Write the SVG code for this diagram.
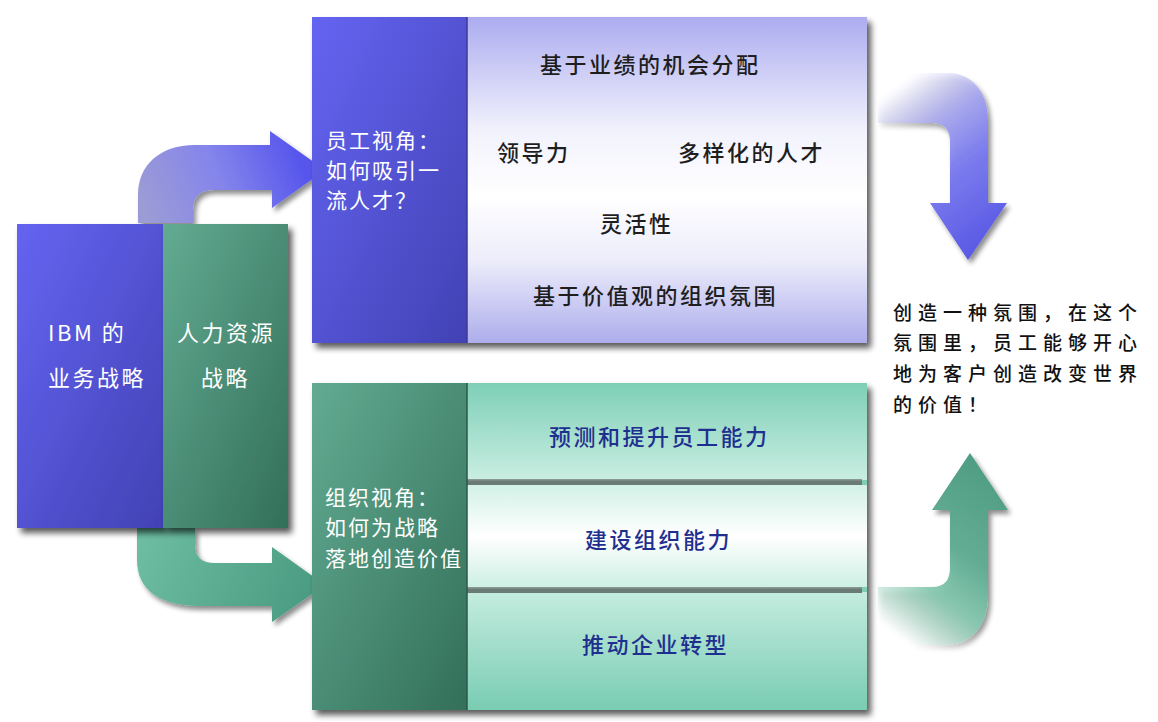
<svg xmlns="http://www.w3.org/2000/svg" width="1158" height="722" viewBox="0 0 1158 722">
<defs>
<style>
.cjk{font-family:"Noto Sans CJK SC","Liberation Sans",sans-serif;}
.w{fill:#ffffff;font-size:21px;letter-spacing:2px;}
.wl{fill:#ffffff;font-size:22px;letter-spacing:2.5px;}
.dk{fill:#1e1e1e;font-size:22px;letter-spacing:2.5px;font-weight:500;}
.bl{fill:#1f2f8f;font-size:22px;letter-spacing:2.5px;font-weight:500;}
.rt{fill:#111111;font-size:19px;letter-spacing:6px;font-weight:500;}
</style>
<filter id="sh" x="-10%" y="-10%" width="125%" height="125%">
<feGaussianBlur in="SourceAlpha" stdDeviation="3"/>
<feOffset dx="4" dy="5" result="b"/>
<feComponentTransfer><feFuncA type="linear" slope="0.65"/></feComponentTransfer>
<feMerge><feMergeNode/><feMergeNode in="SourceGraphic"/></feMerge>
</filter>
<filter id="ash" x="-20%" y="-20%" width="150%" height="150%">
<feGaussianBlur in="SourceAlpha" stdDeviation="2.5"/>
<feOffset dx="3" dy="4" result="b"/>
<feComponentTransfer><feFuncA type="linear" slope="0.45"/></feComponentTransfer>
<feMerge><feMergeNode/><feMergeNode in="SourceGraphic"/></feMerge>
</filter>
<linearGradient id="gBlue" x1="0" y1="0" x2="1" y2="1">
<stop offset="0" stop-color="#6464f2"/><stop offset="1" stop-color="#4242b4"/>
</linearGradient>
<linearGradient id="gGreen" x1="0" y1="0" x2="1" y2="1">
<stop offset="0" stop-color="#62ab92"/><stop offset="1" stop-color="#336f59"/>
</linearGradient>
<linearGradient id="gLav" x1="0" y1="0" x2="0" y2="1">
<stop offset="0" stop-color="#acacf0"/><stop offset="0.35" stop-color="#f2f2fd"/><stop offset="0.55" stop-color="#ffffff"/><stop offset="0.75" stop-color="#ececfb"/><stop offset="1" stop-color="#adadec"/>
</linearGradient>
<linearGradient id="gB1" x1="0" y1="0" x2="0" y2="1">
<stop offset="0" stop-color="#7ecfb6"/><stop offset="1" stop-color="#c9eee2"/>
</linearGradient>
<linearGradient id="gB2" x1="0" y1="0" x2="0" y2="1">
<stop offset="0" stop-color="#d2f1e7"/><stop offset="0.5" stop-color="#ffffff"/><stop offset="1" stop-color="#cdefe4"/>
</linearGradient>
<linearGradient id="gB3" x1="0" y1="0" x2="0" y2="1">
<stop offset="0" stop-color="#c4ecdf"/><stop offset="1" stop-color="#79ccb2"/>
</linearGradient>
<linearGradient id="aTL" gradientUnits="userSpaceOnUse" x1="150" y1="220" x2="300" y2="160">
<stop offset="0" stop-color="#9b9bd6"/><stop offset="0.5" stop-color="#8484ec"/><stop offset="1" stop-color="#5656ec"/>
</linearGradient>
<linearGradient id="aBL" gradientUnits="userSpaceOnUse" x1="150" y1="530" x2="310" y2="600">
<stop offset="0" stop-color="#6cbca1"/><stop offset="1" stop-color="#4a9b81"/>
</linearGradient>
<linearGradient id="aTR" gradientUnits="userSpaceOnUse" x1="878" y1="98" x2="990" y2="250">
<stop offset="0" stop-color="#c8c8f6" stop-opacity="0"/><stop offset="0.3" stop-color="#a4a4f0" stop-opacity="0.9"/><stop offset="0.55" stop-color="#7c7cee"/><stop offset="1" stop-color="#5656e4"/>
</linearGradient>
<linearGradient id="aBR" gradientUnits="userSpaceOnUse" x1="878" y1="620" x2="990" y2="470">
<stop offset="0" stop-color="#a8dcc8" stop-opacity="0"/><stop offset="0.3" stop-color="#82c6ad" stop-opacity="0.9"/><stop offset="0.55" stop-color="#63ad94"/><stop offset="1" stop-color="#4f9d84"/>
</linearGradient>
<clipPath id="clipOrg"><rect x="312" y="383" width="155" height="327"/></clipPath>
</defs>
<rect width="1158" height="722" fill="#ffffff"/>

<g id="connectors">
<path id="arrow-top-left" filter="url(#ash)" fill="url(#aTL)" d="M138,223 L138,195 C138,165 160,145 195,145 L270,145 L270,131 L325,170 L272,208 L272,190 L214,190 Q193,190 193,210 L193,223 Z"/>
<path id="arrow-bottom-left" filter="url(#ash)" fill="url(#aBL)" d="M137,528 L137,560 C137,590 160,606 200,606 L272,606 L272,622 L325,585 L272,547 L272,563 L215,563 Q195,563 195,545 L195,528 Z"/>
<path id="arrow-top-right" filter="url(#ash)" fill="url(#aTR)" d="M878,73 L948,73 C972,73 988,92 988,120 L988,203 L1007,203 L968,260 L930,203 L950,203 L950,142 Q950,123 932,123 L878,123 Z"/>
<path id="arrow-bottom-right" filter="url(#ash)" fill="url(#aBR)" d="M878,645 L945,645 C972,645 988,625 988,595 L988,510 L1008,510 L970,453 L932,510 L950,510 L950,568 Q950,587 932,587 L878,587 Z"/>
</g>

<g id="node-ibm">
<rect x="17" y="224" width="146" height="304" fill="url(#gBlue)" filter="url(#sh)"/>
<text class="cjk wl" x="48" y="341">IBM 的</text>
<text class="cjk wl" x="48" y="386">业务战略</text>
</g>

<g id="node-hr">
<rect x="163" y="224" width="125" height="304" fill="url(#gGreen)" filter="url(#sh)"/>
<text class="cjk wl" x="177" y="341">人力资源</text>
<text class="cjk wl" x="201" y="386">战略</text>
</g>

<g id="node-employee">
<rect x="312" y="17" width="555" height="326" fill="url(#gLav)" filter="url(#sh)"/>
<rect x="312" y="17" width="155" height="326" fill="url(#gBlue)"/>
<line x1="467" y1="17" x2="467" y2="343" stroke="#3a3a9a" stroke-width="1.5"/>
<text class="cjk w" x="326" y="148">员工视角：</text>
<text class="cjk w" x="326" y="178">如何吸引一</text>
<text class="cjk w" x="326" y="208">流人才？</text>
<text class="cjk dk" x="540" y="73">基于业绩的机会分配</text>
<text class="cjk dk" x="497" y="161">领导力</text>
<text class="cjk dk" x="678" y="161">多样化的人才</text>
<text class="cjk dk" x="600" y="232">灵活性</text>
<text class="cjk dk" x="533" y="304">基于价值观的组织氛围</text>
</g>

<g id="node-org">
<rect x="312" y="383" width="555" height="327" fill="#7ecfb6" filter="url(#sh)"/>
<rect x="312" y="383" width="155" height="327" fill="url(#gGreen)"/>
<text class="cjk w" x="325" y="505" clip-path="url(#clipOrg)">组织视角：</text>
<text class="cjk w" x="325" y="535" clip-path="url(#clipOrg)">如何为战略</text>
<text class="cjk w" x="325" y="566" clip-path="url(#clipOrg)">落地创造价值</text>
<rect x="467" y="383" width="400" height="97" fill="url(#gB1)"/>
<rect x="467" y="485" width="400" height="102" fill="url(#gB2)"/>
<rect x="467" y="592" width="400" height="118" fill="url(#gB3)"/>
<rect x="467" y="479" width="395" height="6" fill="#6a7a75"/>
<rect x="467" y="479" width="395" height="1.5" fill="#8a9893"/>
<rect x="467" y="587" width="395" height="6" fill="#6a7a75"/>
<rect x="467" y="587" width="395" height="1.5" fill="#8a9893"/>
<line x1="467" y1="383" x2="467" y2="710" stroke="#2a5a48" stroke-width="1.5"/>
<text class="cjk bl" x="549" y="445">预测和提升员工能力</text>
<text class="cjk bl" x="585" y="548">建设组织能力</text>
<text class="cjk bl" x="582" y="653">推动企业转型</text>
</g>

<g id="node-outcome">
<text class="cjk rt" x="893" y="320">创造一种氛围，在这个</text>
<text class="cjk rt" x="893" y="350">氛围里，员工能够开心</text>
<text class="cjk rt" x="893" y="381">地为客户创造改变世界</text>
<text class="cjk rt" x="893" y="412">的价值！</text>
</g>
</svg>
